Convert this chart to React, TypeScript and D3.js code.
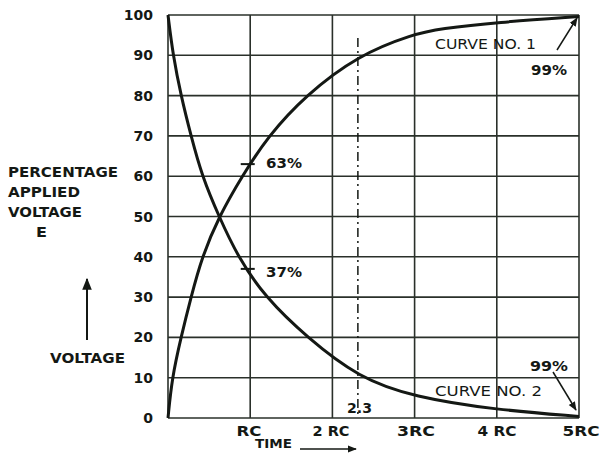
import React from "react";
import * as d3 from "d3";

const curve1T = [0, 0.049, 0.158, 0.28, 0.414, 0.62, 0.9, 1.22, 1.67, 2.31, 2.99, 3.31, 4.0, 5.0];
const curve1V = [0, 10, 20, 30, 40, 50, 60, 70, 80, 90, 95.3, 96.6, 98.2, 99.6];
const curve2T = [0, 0.061, 0.158, 0.28, 0.414, 0.62, 0.85, 1.18, 1.69, 2.32, 2.99, 4.0, 5.0];
const curve2V = [100, 90, 80, 70, 60, 50, 40, 30, 20, 10, 5.2, 2.0, 0.4];
const yTicks = [0, 10, 20, 30, 40, 50, 60, 70, 80, 90, 100];
const xTicks = [1, 2, 3, 4, 5];
const xTickLabels = ["RC", "2 RC", "3RC", "4 RC", "5RC"];
const yLabelLines = ["PERCENTAGE", "APPLIED", "VOLTAGE", "E"];

const W = 600, H = 458;
const x = d3.scaleLinear().domain([0, 5]).range([168, 579]);
const y = d3.scaleLinear().domain([0, 100]).range([418, 15]);
const ink = "#141814";
const font = "'DejaVu Sans', sans-serif";

export default function App() {
  const line = d3.line<number[]>().x((d) => d[0]).y((d) => d[1]).curve(d3.curveBasis);
  const p1 = line(curve1T.map((t, i) => [x(t), y(curve1V[i])])) || "";
  const p2 = line(curve2T.map((t, i) => [x(t), y(curve2V[i])])) || "";
  const ts = { fontFamily: font, fontWeight: 700, fill: ink } as any;
  const tsr = { fontFamily: font, fontWeight: 500, fill: ink } as any;
  const xLabelPos = [249, 331, 416, 497, 581];
  const xLabelW = [25, 37, 38, 39, 37];
  const sg = "spacingAndGlyphs";
  return (
    <svg width={W} height={H} style={{ position: "absolute", left: 0, top: 0, background: "#fff" }}>
      <defs>
        <marker id="ah" viewBox="0 0 10 10" refX="9" refY="5" markerWidth="6" markerHeight="6" orient="auto">
          <path d="M0,1 L10,5 L0,9 z" fill={ink} />
        </marker>
      </defs>
      {yTicks.map((v) => (
        <line key={"h" + v} x1={x(0)} x2={x(5)} y1={y(v)} y2={y(v)} stroke="#2a302a" strokeWidth={1.6} />
      ))}
      {[0, ...xTicks].map((v) => (
        <line key={"v" + v} x1={x(v)} x2={x(v)} y1={y(0)} y2={y(100)} stroke="#2a302a" strokeWidth={1.6} />
      ))}
      <line x1={x(2.31)} x2={x(2.31)} y1={38} y2={y(0)} stroke={ink} strokeWidth={1.5} strokeDasharray="9,4,2,4" />
      <path d={p1} fill="none" stroke={ink} strokeWidth={3} />
      <path d={p2} fill="none" stroke={ink} strokeWidth={3} />
      <line x1={x(0.97) - 7} x2={x(0.97) + 7} y1={y(63)} y2={y(63)} stroke={ink} strokeWidth={2} />
      <line x1={x(0.97) - 7} x2={x(0.97) + 7} y1={y(37)} y2={y(37)} stroke={ink} strokeWidth={2} />
      {yTicks.map((v) => (
        <text key={"yt" + v} x={153} y={y(v) + 5} textAnchor="end" fontSize={14} style={ts}>{v}</text>
      ))}
      {xTicks.map((v, i) => (
        <text key={"xt" + v} x={xLabelPos[i]} y={436} textAnchor="middle" fontSize={14}
          textLength={xLabelW[i]} lengthAdjust={sg} style={ts}>{xTickLabels[i]}</text>
      ))}
      <text x={255} y={448} fontSize={13} textLength={37} lengthAdjust={sg} style={ts}>TIME</text>
      <line x1={300} x2={356} y1={449} y2={449} stroke={ink} strokeWidth={1.5} markerEnd="url(#ah)" />
      {yLabelLines.map((s, i) => (
        <text key={s} x={i === 3 ? 36 : 8} y={177 + i * 20} fontSize={14}
          textLength={[110, 72, 74, 11][i]} lengthAdjust={sg} style={ts}>{s}</text>
      ))}
      <line x1={87} x2={87} y1={340} y2={279} stroke={ink} strokeWidth={2} markerEnd="url(#ah)" />
      <text x={50} y={363} fontSize={14} textLength={75} lengthAdjust={sg} style={ts}>VOLTAGE</text>
      <text x={266} y={168} fontSize={14} textLength={36} lengthAdjust={sg} style={ts}>63%</text>
      <text x={266} y={277} fontSize={14} textLength={36} lengthAdjust={sg} style={ts}>37%</text>
      <text x={435} y={49} fontSize={14} textLength={101} lengthAdjust={sg} style={tsr}>CURVE NO. 1</text>
      <text x={531} y={75} fontSize={14} textLength={36} lengthAdjust={sg} style={ts}>99%</text>
      <line x1={557} x2={577} y1={50} y2={18} stroke={ink} strokeWidth={1.5} markerEnd="url(#ah)" />
      <text x={530} y={371} fontSize={14} textLength={38} lengthAdjust={sg} style={ts}>99%</text>
      <text x={435} y={396} fontSize={14} textLength={107} lengthAdjust={sg} style={tsr}>CURVE NO. 2</text>
      <line x1={553} x2={576} y1={372} y2={410} stroke={ink} strokeWidth={1.5} markerEnd="url(#ah)" />
      <text x={347} y={413} fontSize={14} textLength={25} lengthAdjust={sg} style={ts}>2.3</text>
    </svg>
  );
}
